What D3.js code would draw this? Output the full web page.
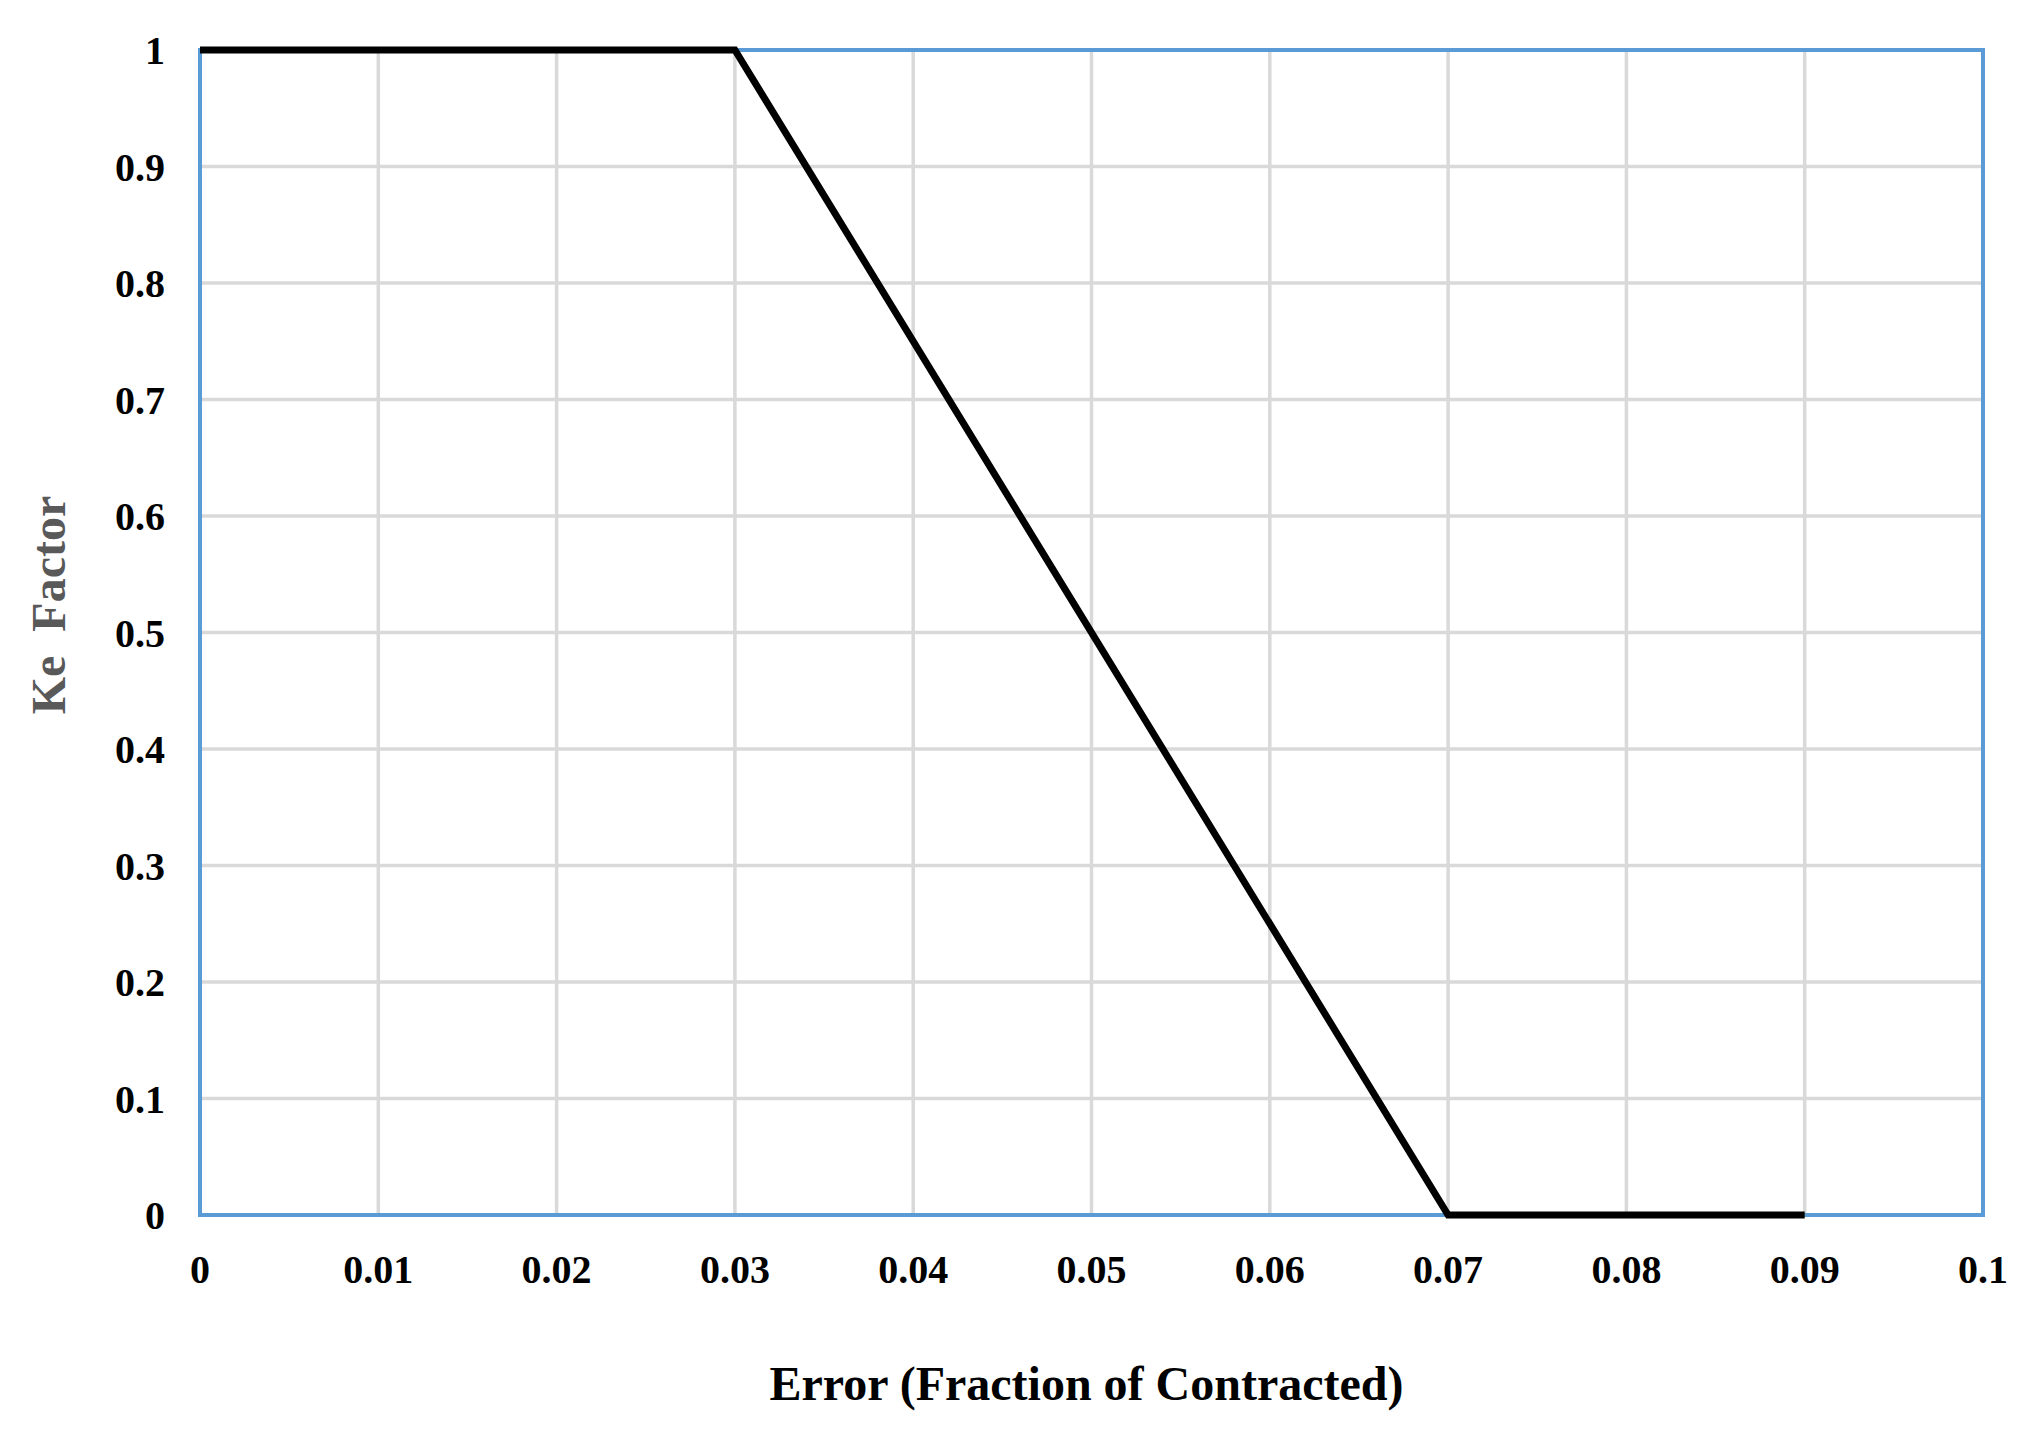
<!DOCTYPE html>
<html><head><meta charset="utf-8">
<script src="https://cdn.jsdelivr.net/npm/d3@7"></script>
<style>body{margin:0;background:#fff}</style></head>
<body><svg id="canvas" width="2033" height="1430"></svg>
<script>
// Ke factor curve
const errorValues = [0, 0.03, 0.07, 0.09];
const keValues = [1, 1, 0, 0];
const xTicks = [0, 0.01, 0.02, 0.03, 0.04, 0.05, 0.06, 0.07, 0.08, 0.09, 0.1];
const yTicks = [0, 0.1, 0.2, 0.3, 0.4, 0.5, 0.6, 0.7, 0.8, 0.9, 1];

const svg = d3.select("#canvas");
const plotLeft = 200, plotRight = 1983, plotTop = 50, plotBottom = 1215;
const x = d3.scaleLinear().domain([0, 0.1]).range([plotLeft, plotRight]);
const y = d3.scaleLinear().domain([0, 1]).range([plotBottom, plotTop]);
const font = "'Liberation Serif', 'Times New Roman', serif";

// grid
svg.selectAll(".vg").data(xTicks).enter().append("line")
  .attr("x1", d => x(d)).attr("x2", d => x(d)).attr("y1", plotTop).attr("y2", plotBottom)
  .attr("stroke", "#d9d9d9").attr("stroke-width", 3.5);
svg.selectAll(".hg").data(yTicks).enter().append("line")
  .attr("y1", d => y(d)).attr("y2", d => y(d)).attr("x1", plotLeft).attr("x2", plotRight)
  .attr("stroke", "#d9d9d9").attr("stroke-width", 3.5);

// frame
svg.append("rect").attr("x", plotLeft).attr("y", plotTop)
  .attr("width", plotRight - plotLeft).attr("height", plotBottom - plotTop)
  .attr("fill", "none").attr("stroke", "#5b9bd5").attr("stroke-width", 4);

// curve
svg.append("path")
  .datum(errorValues.map((e, i) => [e, keValues[i]]))
  .attr("d", d3.line().x(d => x(d[0])).y(d => y(d[1])))
  .attr("fill", "none").attr("stroke", "#000").attr("stroke-width", 7);

// tick labels
svg.selectAll(".yl").data(yTicks).enter().append("text")
  .attr("x", 165).attr("y", d => y(d)).attr("dy", "0.35em")
  .attr("text-anchor", "end").attr("font-family", font).attr("font-weight", "bold")
  .attr("font-size", 40).text(d => d);
svg.selectAll(".xl").data(xTicks).enter().append("text")
  .attr("x", d => x(d)).attr("y", 1283)
  .attr("text-anchor", "middle").attr("font-family", font).attr("font-weight", "bold")
  .attr("font-size", 40).text(d => d);

// axis titles
svg.append("text").attr("x", (plotLeft + plotRight) / 2 - 5).attr("y", 1400)
  .attr("text-anchor", "middle").attr("font-family", font).attr("font-weight", "bold")
  .attr("font-size", 48).text("Error (Fraction of Contracted)");
svg.append("text").attr("transform", "translate(65,605) rotate(-90)")
  .attr("text-anchor", "middle").attr("font-family", font).attr("font-weight", "bold")
  .attr("font-size", 48).attr("fill", "#595959").style("white-space", "pre")
  .text("Ke  Factor");
</script></body></html>
